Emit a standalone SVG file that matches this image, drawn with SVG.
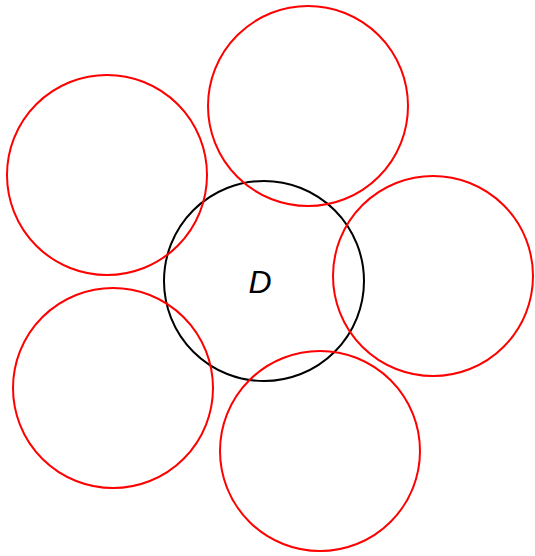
<svg xmlns="http://www.w3.org/2000/svg" width="535" height="556" viewBox="0 0 535 556">
<style>
.r{fill:none;stroke:#ff0000;stroke-width:2}
.k{fill:none;stroke:#000000;stroke-width:2}
.t{font-family:"Liberation Sans",Arial,sans-serif;font-style:italic;fill:#000}
</style>
<rect width="535" height="556" fill="#fff"/>
<g id="D"><circle class="k" cx="264" cy="281" r="100"/><text class="t" x="260" y="293" font-size="32" text-anchor="middle">D</text></g>
<g id="c1"><circle class="r" cx="308" cy="106" r="100"/></g>
<g id="c2"><circle class="r" cx="107" cy="175" r="100"/></g>
<g id="c3"><circle class="r" cx="433" cy="276" r="100"/></g>
<g id="c4"><circle class="r" cx="113" cy="388" r="100"/></g>
<g id="c5"><circle class="r" cx="320" cy="451" r="100"/></g>
<g id="connectors"/>
</svg>
